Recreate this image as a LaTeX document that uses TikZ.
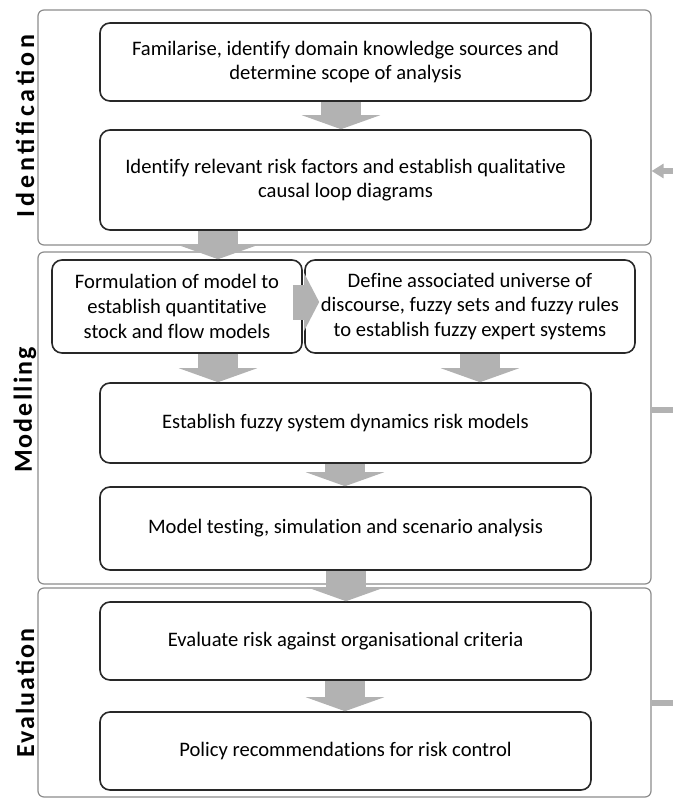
\documentclass[tikz,border=0pt]{standalone}
\usepackage{fontspec}
\setmainfont{Carlito}[Ligatures=NoCommon]
\newfontfamily\labelfont[LetterSpace=8]{Carlito}
\newfontfamily\widelabelfont[LetterSpace=15]{Carlito}
\usetikzlibrary{arrows.meta, positioning}
\definecolor{flowgray}{RGB}{178,178,178}
\definecolor{framegray}{RGB}{140,140,140}
\definecolor{boxline}{RGB}{40,40,40}

\begin{document}
\begin{tikzpicture}[
    x=0.5pt, y=-0.5pt,
    phase/.style={rectangle, draw=framegray, line width=0.6pt, rounded corners=3pt, inner sep=0pt},
    stepbox/.style={rectangle, draw=boxline, line width=0.8pt, rounded corners=5pt, align=center, inner sep=0pt, font=\fontsize{10.3}{12.3}\selectfont},
    flow/.style={draw=flowgray, line width=20pt, -{Triangle[width=39pt, length=7pt]}},
    feedback/.style={draw=flowgray, line width=3pt},
    phaselabel/.style={rotate=90, inner sep=0pt, font=\labelfont\bfseries\fontsize{13}{15}\selectfont}
]
\useasboundingbox (0,0) rectangle (673,798);

% phases
\node[phase, minimum width=306.5pt, minimum height=117.5pt] (ident) at (344.5,127.5) {};
\node[phase, minimum width=306.5pt, minimum height=166pt] (model) at (344.5,418) {};
\node[phase, minimum width=306.5pt, minimum height=104.5pt] (evalu) at (344.5,692.5) {};
\node[phaselabel, font=\widelabelfont\bfseries\fontsize{13}{15}\selectfont] (identlbl) at (25,126) {Identification};
\node[phaselabel] (modellbl) at (25,410) {Modelling};
\node[phaselabel] (evalulbl) at (25,693) {Evaluation};

% steps
\node[stepbox, minimum width=245.5pt, minimum height=39pt] (fam) at (345.5,62)
    {Familarise, identify domain knowledge sources and\\determine scope of analysis};
\node[stepbox, minimum width=245.5pt, minimum height=50pt] (idf) at (345.5,180)
    {Identify relevant risk factors and establish qualitative\\causal loop diagrams};
\node[stepbox, minimum width=125pt, minimum height=46.5pt] (form) at (177,306.5)
    {Formulation of model to\\establish quantitative\\stock and flow models};
\node[stepbox, minimum width=165pt, minimum height=46.5pt] (defn) at (470,306.5)
    {Define associated universe of\\discourse, fuzzy sets and fuzzy rules\\to establish fuzzy expert systems};
\node[stepbox, minimum width=245.5pt, minimum height=40pt] (estab) at (345.5,423)
    {Establish fuzzy system dynamics risk models};
\node[stepbox, minimum width=245.5pt, minimum height=41.5pt] (mtest) at (345.5,528.5)
    {Model testing, simulation and scenario analysis};
\node[stepbox, minimum width=245.5pt, minimum height=39pt] (evalr) at (345.5,641)
    {Evaluate risk against organisational criteria};
\node[stepbox, minimum width=245.5pt, minimum height=39pt] (policy) at (345.5,751)
    {Policy recommendations for risk control};

% flow arrows
\draw[flow] (fam.south -| 341,0) -- (idf.north -| 341,0);
\draw[flow] (idf.south -| 218,0) -- (form.north -| 218,0);
\draw[flow, line width=17.5pt, -{Triangle[width=28.5pt, length=7.5pt]}] ([xshift=-5pt]form.east |- 0,302) -- ([xshift=7.5pt]defn.west |- 0,302);
\draw[flow] (form.south -| 218,0) -- (estab.north -| 218,0);
\draw[flow] (defn.south -| 480,0) -- (estab.north -| 480,0);
\draw[flow] (estab.south -| 345,0) -- (mtest.north -| 345,0);
\draw[flow] (mtest.south -| 346,0) -- (evalr.north -| 346,0);
\draw[flow] (evalr.south -| 345,0) -- (policy.north -| 345,0);

% feedback stubs on the right
\coordinate (fbtop) at (680,171);
\coordinate (fbmid) at (680,410);
\coordinate (fbbot) at (680,703);
\draw[feedback, -{Triangle[width=7pt, length=6pt]}] (fbtop) -- (fbtop -| ident.east);
\draw[feedback] (fbmid) -- (fbmid -| model.east);
\draw[feedback] (fbbot) -- (fbbot -| evalu.east);
\end{tikzpicture}
\end{document}
